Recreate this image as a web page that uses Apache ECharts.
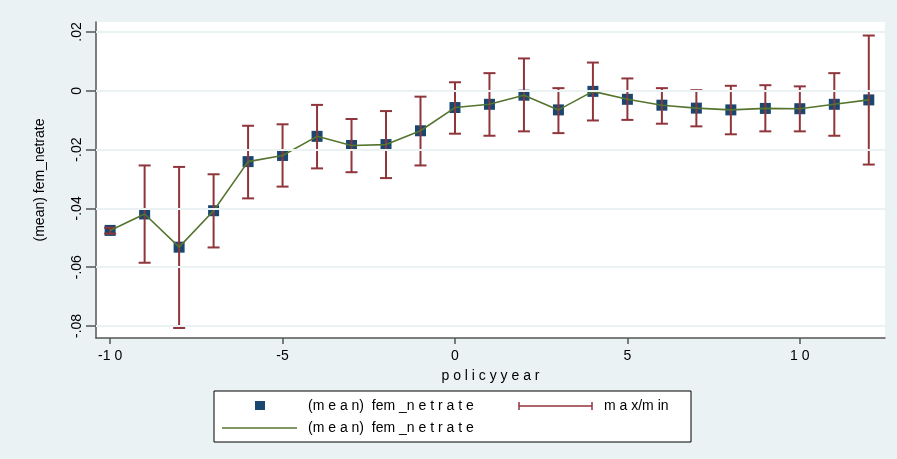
<!DOCTYPE html>
<html>
<head>
<meta charset="utf-8">
<script src="https://cdn.jsdelivr.net/npm/echarts@6/dist/echarts.min.js"></script>
<style>
html,body{margin:0;padding:0;background:#EAF2F3;}
#chart{width:897px;height:459px;}
</style>
</head>
<body>
<div id="chart"></div>
<script>
var years = [-10,-9,-8,-7,-6,-5,-4,-3,-2,-1,0,1,2,3,4,5,6,7,8,9,10,11,12];
var means = [-0.0475,-0.0419,-0.0532,-0.0408,-0.0241,-0.0220,-0.0155,-0.0186,-0.0183,-0.0136,-0.0057,-0.0046,-0.0015,-0.0065,-0.0002,-0.0029,-0.0049,-0.0059,-0.0065,-0.0060,-0.0061,-0.0046,-0.0031];
var maxs = [-0.0466,-0.0254,-0.0259,-0.0284,-0.0119,-0.0114,-0.0048,-0.0096,-0.0069,-0.0020,0.0029,0.0060,0.0110,0.0009,0.0096,0.0042,0.0009,0.0002,0.0017,0.0019,0.0015,0.0060,0.0188];
var mins = [-0.0486,-0.0585,-0.0807,-0.0533,-0.0366,-0.0326,-0.0264,-0.0277,-0.0297,-0.0254,-0.0146,-0.0153,-0.0138,-0.0144,-0.0101,-0.0099,-0.0112,-0.0121,-0.0148,-0.0138,-0.0138,-0.0153,-0.0251];
var xTicks = [-10,-5,0,5,10];
var xTickLabels = ['-1 0','-5','0','5','1 0'];
var yTicks = [-0.08,-0.06,-0.04,-0.02,0,0.02];
var yTickLabels = ['-.08','-.06','-.04','-.02','0','.02'];
var xTitle = 'p o l i c y y e a r';
var yTitle = '(mean) fem_netrate';
var legendMean = '(m e a n)  fem _n e t r a t e';
var legendRange = 'm a x/m in';

var NAVY = '#1A476F', MAROON = '#90353B', GREEN = '#55752F', GRIDC = '#EAF2F3';
var FONT = 'Liberation Sans, Arial, sans-serif';

var pts = years.map(function(y,i){return [y, means[i]];});
var bars = years.map(function(y,i){return [y, mins[i], maxs[i]];});

var chart = echarts.init(document.getElementById('chart'), null, {renderer:'canvas'});
chart.setOption({
  backgroundColor: GRIDC,
  animation: false,
  grid: {left:96, right:12, top:22, bottom:121, show:true, backgroundColor:'#FFFFFF', borderWidth:0},
  xAxis: {
    type:'value', min:-10.41, max:12.47,
    axisLine:{show:true, onZero:false, lineStyle:{color:'#555', width:1.5}},
    axisTick:{show:true, length:6, lineStyle:{color:'#555', width:1.5}, customValues:xTicks},
    axisLabel:{customValues:xTicks, color:'#000', fontFamily:FONT, fontSize:14, margin:11,
      formatter:function(v){var i=xTicks.indexOf(v); return i>=0?xTickLabels[i]:'';}},
    splitLine:{show:false},
    name:xTitle, nameLocation:'middle', nameGap:31,
    nameTextStyle:{color:'#000', fontFamily:FONT, fontSize:14}
  },
  yAxis: {
    type:'value', min:-0.0841, max:0.0234,
    axisLine:{show:true, onZero:false, lineStyle:{color:'#555', width:1.5}},
    axisTick:{show:true, length:10, lineStyle:{color:'#555', width:1.5}, customValues:yTicks},
    axisLabel:{customValues:yTicks, rotate:90, color:'#000', fontFamily:FONT, fontSize:14, margin:12,
      formatter:function(v){for(var i=0;i<yTicks.length;i++){if(Math.abs(yTicks[i]-v)<1e-9)return yTickLabels[i];} return '';}},
    splitLine:{show:false},
    name:yTitle, nameLocation:'middle', nameGap:49, nameRotate:90,
    nameTextStyle:{color:'#000', fontFamily:FONT, fontSize:14}
  },
  series: [
    {
      type:'line', data:[], silent:true,
      markLine:{silent:true, symbol:'none', label:{show:false},
        lineStyle:{color:GRIDC, width:2, type:'solid'},
        data: yTicks.map(function(v){return {yAxis:v};})}
    },
    {
      type:'scatter', name:'mean', data:pts, symbol:'rect', symbolSize:11, z:2,
      itemStyle:{color:NAVY, opacity:1}
    },
    {
      type:'custom', name:'max/min', data:bars, z:3,
      renderItem:function(params, api){
        var x = api.value(0);
        var lo = api.coord([x, api.value(1)]);
        var hi = api.coord([x, api.value(2)]);
        var hw = 6;
        var st = {stroke:MAROON, lineWidth:2};
        return {type:'group', children:[
          {type:'line', shape:{x1:lo[0], y1:lo[1], x2:hi[0], y2:hi[1]}, style:st},
          {type:'line', shape:{x1:lo[0]-hw, y1:lo[1], x2:lo[0]+hw, y2:lo[1]}, style:st},
          {type:'line', shape:{x1:hi[0]-hw, y1:hi[1], x2:hi[0]+hw, y2:hi[1]}, style:st}
        ]};
      }
    },
    {
      type:'line', name:'mean line', data:pts, symbol:'none', z:4,
      lineStyle:{color:GREEN, width:1.6}
    }
  ],
  graphic: [
    {type:'rect', shape:{x:214, y:391, width:477, height:51}, style:{fill:'#FFFFFF', stroke:'#000', lineWidth:1}},
    {type:'rect', shape:{x:255, y:401, width:10, height:9}, style:{fill:NAVY}},
    {type:'text', x:308, y:406, style:{text:legendMean, fill:'#000', font:'14px '+FONT, textVerticalAlign:'middle'}},
    {type:'line', shape:{x1:519, y1:406, x2:592, y2:406}, style:{stroke:MAROON, lineWidth:1.5}},
    {type:'line', shape:{x1:519, y1:402, x2:519, y2:410}, style:{stroke:MAROON, lineWidth:1.5}},
    {type:'line', shape:{x1:592, y1:402, x2:592, y2:410}, style:{stroke:MAROON, lineWidth:1.5}},
    {type:'text', x:604, y:406, style:{text:legendRange, fill:'#000', font:'14px '+FONT, textVerticalAlign:'middle'}},
    {type:'line', shape:{x1:222, y1:428, x2:297, y2:428}, style:{stroke:GREEN, lineWidth:1.5}},
    {type:'text', x:308, y:428, style:{text:legendMean, fill:'#000', font:'14px '+FONT, textVerticalAlign:'middle'}}
  ]
});
</script>
</body>
</html>
